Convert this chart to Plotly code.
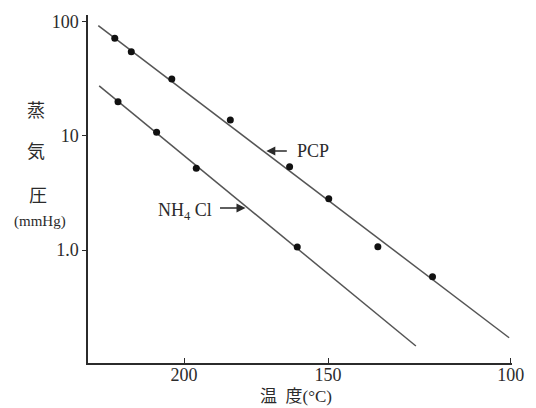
import plotly.graph_objects as go

# Data (temperature in °C, vapour pressure in mmHg)
pcp_temp = [228.5, 221.4, 204.8, 182.7, 162.3, 149.8, 135.1, 119.9]
pcp_pres = [71.9, 54.9, 31.6, 13.8, 5.38, 2.82, 1.07, 0.583]
pcp_line_temp = [235.8, 100.4]
pcp_line_pres = [92.8, 0.170]

nh4cl_temp = [227.1, 210.9, 195.3, 159.8]
nh4cl_pres = [20.0, 10.8, 5.21, 1.06]
nh4cl_line_temp = [235.4, 124.4]
nh4cl_line_pres = [27.5, 0.144]

x_tick_temps = [200, 150, 100]
x_tick_labels = ["200", "150", "100"]
y_tick_vals = [1, 10, 100]
y_tick_labels = ["1.0", "10", "100"]


def inv(tc):
    return [1.0 / (t + 273.15) for t in tc]


INK = "#2b2b2b"
LINE = "#555555"
SERIF = "Liberation Serif, Times New Roman, serif"
JP = "Noto Sans CJK JP, sans-serif"

fig = go.Figure()
fig.add_trace(go.Scatter(x=inv(pcp_line_temp), y=pcp_line_pres, mode="lines",
                         line=dict(color=LINE, width=1.5), showlegend=False))
fig.add_trace(go.Scatter(x=inv(nh4cl_line_temp), y=nh4cl_line_pres, mode="lines",
                         line=dict(color=LINE, width=1.5), showlegend=False))
fig.add_trace(go.Scatter(x=inv(pcp_temp), y=pcp_pres, mode="markers",
                         marker=dict(color="#111111", size=7), showlegend=False))
fig.add_trace(go.Scatter(x=inv(nh4cl_temp), y=nh4cl_pres, mode="markers",
                         marker=dict(color="#111111", size=7), showlegend=False))

fig.update_layout(
    width=536, height=408,
    margin=dict(l=88, r=20, t=15, b=45),
    paper_bgcolor="white", plot_bgcolor="white",
    font=dict(family=SERIF, color=INK, size=17),
    xaxis=dict(
        range=[0.001947, 0.002682],
        tickvals=inv(x_tick_temps), ticktext=x_tick_labels,
        showline=True, linecolor=INK, linewidth=1.5, mirror=False,
        ticks="inside", ticklen=5, tickcolor=INK, tickwidth=1,
        ticklabelstandoff=-5,
        showgrid=False, zeroline=False,
        tickfont=dict(family=SERIF, size=18, color=INK),
    ),
    yaxis=dict(
        type="log", range=[-0.991, 2.061],
        tickvals=y_tick_vals, ticktext=y_tick_labels,
        showline=True, linecolor=INK, linewidth=1.5, mirror=False,
        ticks="outside", ticklen=4, tickcolor=INK, tickwidth=1,
        showgrid=False, zeroline=False,
        tickfont=dict(family=SERIF, size=18, color=INK),
    ),
)


def label(text, px, py, family, size):
    return dict(text=text, xref="paper", yref="paper",
                x=(px - 88) / 428, y=(363 - py) / 348,
                xanchor="center", yanchor="middle", borderpad=0,
                showarrow=False, font=dict(family=family, size=size, color=INK))


def arrow(px, py, ax):
    return dict(text="", xref="paper", yref="paper",
                x=(px - 88) / 428, y=(363 - py) / 348,
                ax=ax, ay=0, showarrow=True, arrowhead=2, arrowsize=1.2,
                arrowwidth=1.5, arrowcolor=INK)


x_title = ("温\u2002度<span style=\"font-family:Liberation Serif\">(°C)</span>")

annotations = [
    label(x_title, 298, 395, JP, 17),
    label("蒸", 36, 109, JP, 18),
    label("気", 36, 150, JP, 18),
    label("圧", 38, 194, JP, 18),
    label("(mmHg)", 40, 221, SERIF, 15),
    label("PCP", 315, 151, SERIF, 18),
    label("NH<sub>4</sub> Cl", 186, 211, SERIF, 18),
    arrow(268, 151, 22),
    arrow(247, 208, -27),
]
fig.update_layout(annotations=annotations)

fig.write_html("out.html")
